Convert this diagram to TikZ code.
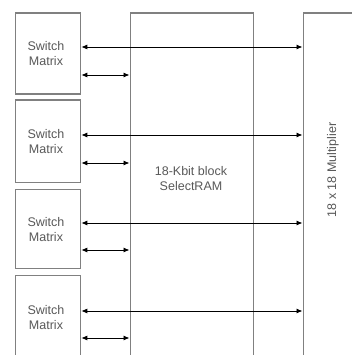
\documentclass[tikz,border=0pt]{standalone}
\usepackage{fontspec}
\setmainfont{Liberation Sans}
\usetikzlibrary{arrows.meta}
\begin{document}
\begin{tikzpicture}[x=1pt,y=-1pt,
  blk/.style={draw=black!50,line width=1.8pt,rectangle,inner sep=0pt,anchor=north west},
  lbl/.style={text=black!65,font=\fontsize{12.5}{15}\selectfont,align=center,inner sep=0pt},
  conn/.style={draw=black,line width=0.9pt,{Latex[length=6pt,width=5pt]}-{Latex[length=6pt,width=5pt]}}]
\useasboundingbox[fill=white] (0,0) rectangle (352,355);
% switch matrices
\node[blk,minimum width=65pt,minimum height=81pt] (sm1) at (14.5,12.5) {};
\node[blk,minimum width=65pt,minimum height=82pt] (sm2) at (14.5,99.5) {};
\node[blk,minimum width=65pt,minimum height=79pt] (sm3) at (14.5,188.5) {};
\node[blk,minimum width=65pt,minimum height=90pt] (sm4) at (14.5,274.5) {};
\node[lbl] (t1) at (46,54) {Switch\\Matrix};
\node[lbl] (t2) at (46,142) {Switch\\Matrix};
\node[lbl] (t3) at (46,230) {Switch\\Matrix};
\node[lbl] (t4) at (46,318) {Switch\\Matrix};
% block RAM
\node[blk,minimum width=123pt,minimum height=360pt] (bram) at (129.5,12.5) {};
\node[lbl] (bramt) at (191,179) {18-Kbit block\\SelectRAM};
% multiplier
\node[blk,minimum width=70pt,minimum height=360pt] (mult) at (302.5,12.5) {};
\node[lbl,rotate=90] (multt) at (333,170) {18 x 18 Multiplier};
% connector end points on switch matrices
\coordinate (a1) at ([yshift=-34.5pt]sm1.north east);
\coordinate (b1) at ([yshift=-62.5pt]sm1.north east);
\coordinate (a2) at ([yshift=-35.5pt]sm2.north east);
\coordinate (b2) at ([yshift=-63.5pt]sm2.north east);
\coordinate (a3) at ([yshift=-34.5pt]sm3.north east);
\coordinate (b3) at ([yshift=-61.5pt]sm3.north east);
\coordinate (a4) at ([yshift=-36.5pt]sm4.north east);
\coordinate (b4) at ([yshift=-63.5pt]sm4.north east);
% connectors
\foreach \i in {1,2,3,4}{
  \draw[conn] (a\i) -- (mult.west |- a\i);
  \draw[conn] (b\i) -- (bram.west |- b\i);
}
\end{tikzpicture}
\end{document}
